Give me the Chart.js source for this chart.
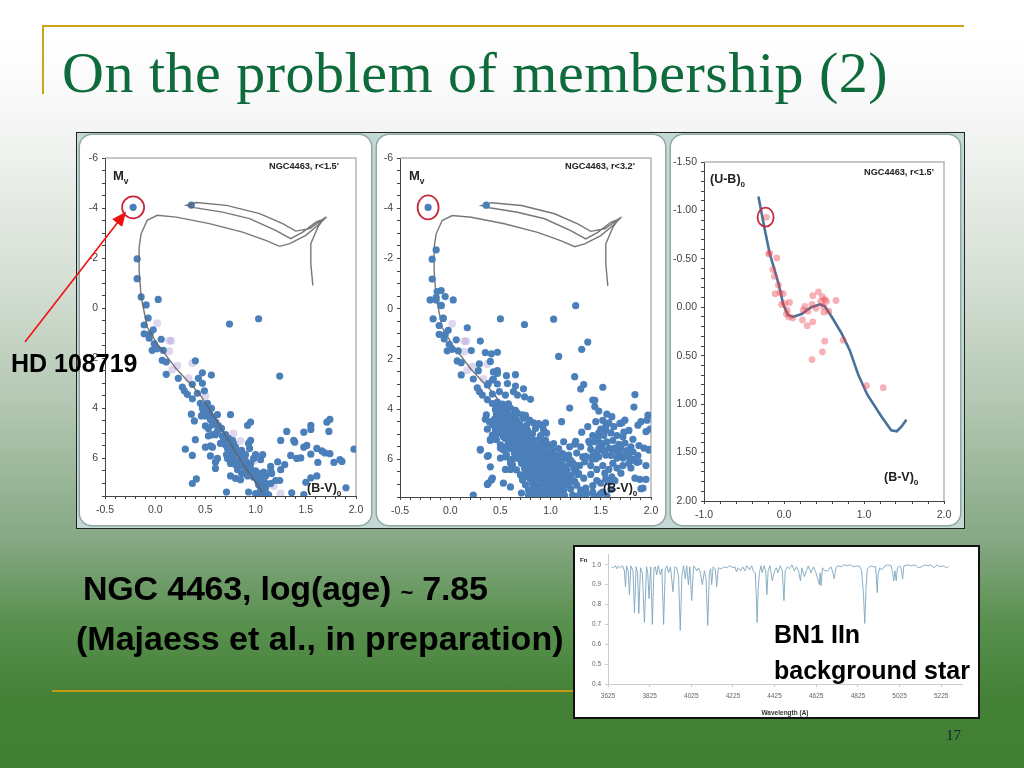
<!DOCTYPE html>
<html><head><meta charset="utf-8">
<script src="https://cdn.jsdelivr.net/npm/chart.js@4"></script>
<style>
html,body{margin:0;padding:0;width:1024px;height:768px;overflow:hidden}
#slide{position:relative;width:1024px;height:768px;background:linear-gradient(180deg,#fff 0,#fff 40px,#f5f6f5 120px,#d5dfd4 280px,#b4c8b3 400px,#86a884 540px,#5a9150 620px,#438136 700px,#417f33 768px);font-family:"Liberation Sans",Arial,sans-serif;color:#000}
.abs{position:absolute;white-space:nowrap}
.bar{position:absolute;background:#cda51c}
#frame{position:absolute;left:76px;top:132px;width:887px;height:395px;border:1.5px solid #222;background:#c4d8d4}
.card{position:absolute;top:135px;height:390px;background:#fff;border-radius:12px;box-shadow:0 0 0 1.5px #8fa8a6}
canvas{position:absolute;display:block}
#specbox{position:absolute;left:573px;top:545px;width:403px;height:170px;background:#fff;border:2px solid #111}
.lab{font-weight:bold;color:#222}
sub{font-size:65%;line-height:0}
</style></head><body>
<div id="slide">
<div class="bar" style="left:42px;top:25px;width:922px;height:2px"></div>
<div class="bar" style="left:42px;top:25px;width:2px;height:69px"></div>
<div class="bar" style="left:52px;top:690px;width:525px;height:2px;background:#c29a14"></div>
<div class="abs" style="left:62px;top:38px;font-family:'Liberation Serif',serif;font-size:58px;line-height:70px;color:#0e6b3c;letter-spacing:0.5px">On the problem of membership (2)</div>
<div id="frame"></div>
<div class="card" style="left:80px;width:291px"></div>
<div class="card" style="left:377px;width:288px"></div>
<div class="card" style="left:671px;width:289px"></div>
<canvas id="c1" width="291" height="390" style="left:80px;top:135px"></canvas>
<canvas id="c2" width="288" height="390" style="left:377px;top:135px"></canvas>
<canvas id="c3" width="289" height="390" style="left:671px;top:135px"></canvas>
<div class="abs lab" style="left:113px;top:168px;font-size:13px">M<sub>v</sub></div>
<div class="abs lab" style="left:269px;top:161px;font-size:9.2px">NGC4463, r&lt;1.5'</div>
<div class="abs lab" style="left:307px;top:481px;font-size:12.5px">(B-V)<sub>0</sub></div>
<div class="abs lab" style="left:409px;top:168px;font-size:13px">M<sub>v</sub></div>
<div class="abs lab" style="left:565px;top:161px;font-size:9.2px">NGC4463, r&lt;3.2'</div>
<div class="abs lab" style="left:603px;top:481px;font-size:12.5px">(B-V)<sub>0</sub></div>
<div class="abs lab" style="left:710px;top:172px;font-size:12.5px">(U-B)<sub>0</sub></div>
<div class="abs lab" style="left:864px;top:167px;font-size:9.2px">NGC4463, r&lt;1.5'</div>
<div class="abs lab" style="left:884px;top:470px;font-size:12.5px">(B-V)<sub>0</sub></div>
<svg class="abs" style="left:0;top:0" width="1024" height="768">
<defs><marker id="ah" markerWidth="9" markerHeight="8" refX="8" refY="4" orient="auto"><path d="M0,0 L9,4 L0,8 Z" fill="#ee1111"/></marker></defs>
<line x1="25" y1="342" x2="125" y2="213" stroke="#ee1111" stroke-width="1.6" marker-end="url(#ah)"/>
</svg>
<div class="abs" style="left:11px;top:349px;font-weight:bold;font-size:25px;line-height:29px">HD 108719</div>
<div id="specbox"></div>
<canvas id="c4" width="403" height="170" style="left:575px;top:547px"></canvas>
<div class="abs lab" style="left:580px;top:557px;font-size:6px">Fn</div>
<div class="abs" style="left:83px;top:570px;font-weight:bold;font-size:34px;line-height:36px;letter-spacing:-0.2px">NGC 4463, log(age) <span style="font-size:22px">~</span> 7.85</div>
<div class="abs" style="left:76px;top:620px;font-weight:bold;font-size:34px;line-height:36px">(Majaess et al., in preparation)</div>
<div class="abs" style="left:774px;top:620px;font-weight:bold;font-size:25px;line-height:28px">BN1 IIn</div>
<div class="abs" style="left:774px;top:656px;font-weight:bold;font-size:25px;line-height:28px">background star</div>
<div class="abs" style="left:946px;top:727px;font-family:'Liberation Serif',serif;font-size:15px;color:#123">17</div>
</div>
<script>
const cmdTicksX=[-0.5,0,0.5,1,1.5,2];
const cmdMvLabels=[-6,-4,-2,0,2,4,6];
const isochrone=[[1.07,7.34],[0.87,6.21],[0.61,4.48],[0.44,3.41],[0.21,2.42],[0.02,1.42],[-0.08,0.75],[-0.14,-0.45],[-0.16,-1.51],[-0.16,-2.44],[-0.14,-2.98],[-0.08,-3.51],[0.02,-3.71],[0.21,-3.64],[0.54,-3.38],[0.87,-3.04],[1.1,-2.71],[1.24,-2.47],[1.34,-2.58],[1.5,-2.91],[1.62,-3.31],[1.69,-3.58],[1.6,-3.44],[1.47,-3.04],[1.35,-2.78],[1.2,-3.11],[0.94,-3.58],[0.67,-3.84],[0.39,-4.02],[0.31,-4.11],[0.41,-4.22],[0.71,-4.11],[1.04,-3.78],[1.27,-3.38],[1.4,-3.08],[1.54,-3.18],[1.68,-3.58],[1.62,-3.24],[1.55,-2.58],[1.55,-1.78],[1.57,-0.91]];
const circledStar=[-0.22,-4.03];
const innerStars=[[-0.22,-4.03],[0.36,-4.12],[-0.18,-1.97],[-0.18,-1.18],[-0.14,-0.45],[-0.09,-0.13],[0.03,-0.35],[-0.07,0.39],[-0.11,0.67],[-0.02,0.86],[-0.11,1.02],[-0.05,1.02],[-0.06,1.2],[0.06,1.24],[-0.01,1.42],[-0.03,1.68],[0.02,1.62],[0.08,1.68],[0.07,2.08],[0.11,2.15],[0.4,2.1],[0.11,2.64],[0.23,2.8],[0.47,2.58],[0.56,2.67],[0.43,2.8],[0.37,3.04],[0.47,3.0],[0.49,3.3],[0.27,3.15],[0.29,3.3],[0.32,3.44],[0.37,3.62],[0.42,3.4],[0.52,3.8],[0.74,0.63],[1.03,0.42],[1.24,2.71],
[1.74,4.44],[1.71,4.55],[1.73,4.92],[1.55,4.68],[1.55,4.84],[1.48,4.95],[1.31,4.92],[1.25,5.28],[1.38,5.28],[1.39,5.35],[1.51,5.48],[1.48,5.55],[1.61,5.6],[1.55,5.83],[1.66,5.7],[1.69,5.78],[1.74,5.81],[1.98,5.63],[1.35,5.88],[1.41,6.0],[1.45,5.98],[1.29,6.25],[1.22,6.14],[1.62,6.16],[1.78,6.16],[1.84,6.05],[1.86,6.12],[1.25,6.45],[1.15,6.32],[1.15,6.5],[1.61,6.7],[1.55,6.78],[1.5,6.95],[1.9,7.17],[1.36,7.37],[1.48,7.44],[1.2,6.88],[1.24,6.88],
[0.3,5.63],[0.37,5.88],[0.4,5.25],[0.36,4.23],[0.39,4.5],[0.37,7.0],[0.41,6.82],[0.71,7.34],[0.93,7.34],
[0.45,3.8],[0.47,4.0],[0.5,3.95],[0.52,4.1],[0.48,4.15],[0.46,4.3],[0.5,4.3],[0.54,4.2],[0.56,4.0],[0.58,4.35],[0.62,4.25],[0.55,4.45],[0.6,4.55],[0.5,4.7],[0.53,4.8],[0.57,4.65],[0.63,4.7],[0.66,4.8],[0.62,4.9],[0.57,5.05],[0.53,5.1],[0.6,5.05],[0.67,5.1],[0.7,5.05],[0.73,5.2],[0.68,5.3],[0.65,5.4],[0.7,5.45],[0.73,5.5],[0.78,5.4],[0.75,4.25],[0.92,4.68],[0.95,4.55],[0.95,5.28],[0.93,5.4],[0.94,5.6],[0.86,5.68],[0.8,5.55],[0.77,5.28],[0.7,5.08],
[0.72,5.6],[0.76,5.7],[0.71,5.85],[0.75,5.9],[0.8,5.8],[0.85,5.85],[0.9,5.85],[0.72,6.0],[0.78,6.05],[0.82,6.1],[0.86,6.0],[0.9,6.1],[0.75,6.2],[0.8,6.25],[0.85,6.3],[0.9,6.3],[0.95,6.2],[0.98,6.0],[1.0,5.85],[1.07,5.85],[1.05,6.05],[0.95,6.4],[0.9,6.5],[0.86,6.6],[0.82,6.45],[0.75,6.7],[0.8,6.8],[0.85,6.85],[0.92,6.7],[0.97,6.55],[1.0,6.5],[1.03,6.6],[1.05,6.7],[1.08,6.55],[1.1,6.7],[0.98,6.75],[1.02,6.9],[1.06,6.85],[1.09,6.95],[1.03,7.05],[1.07,7.1],[1.1,7.15],[1.05,7.25],[1.1,7.35],[1.13,7.45],[1.0,7.4],[1.03,7.45],[1.07,7.45],[1.15,7.0],[1.16,6.6],[0.55,5.5],[0.5,5.55],[0.57,5.55],[0.55,5.9],[0.6,6.15],[0.6,6.4],[0.62,6.0]];
const outerStars=[[-0.14,-2.34],[-0.2,-0.35],[-0.14,-0.35],[-0.13,-0.68],[-0.09,-0.72],[-0.05,-0.48],[-0.09,-0.12],[-0.17,0.41],[-0.07,0.38],[0.17,0.76],[0.5,0.41],[1.25,-0.12],[1.31,1.62],[1.37,1.33],[1.08,1.9],[0.3,1.29],[0.21,1.67],[0.35,1.75],[0.41,1.8],[0.47,1.74],[0.29,2.2],[0.28,2.47],[0.43,2.52],[0.47,2.47],[0.65,2.63],[0.42,2.84],[0.38,2.98],[0.57,2.98],[0.65,3.08],[0.73,3.19],[0.63,3.3],[0.55,3.44],[0.67,3.44],[0.74,3.51],[0.8,3.61],[1.33,3.02],[1.3,3.2],[1.52,3.13],[1.84,3.42],[1.83,3.92],[1.42,3.64],[1.44,3.65],[1.19,3.96],[1.44,3.9],[1.48,4.08],[1.56,4.2],[1.61,4.3],[1.97,4.24],[1.96,4.44],[1.11,4.5],[1.9,4.5],[1.87,4.64],[1.69,4.57],[0.23,7.42],[0.3,5.6],[0.38,5.85],[0.4,6.3],[0.35,4.4],[0.37,4.8],[0.4,5.2],[0.38,6.95],[0.42,6.75],[0.53,6.95],[0.6,7.1],[0.55,6.4],[0.5,5.95],
[0.42,3.78],[0.47,3.72],[0.53,3.83],[0.58,3.79],[0.45,4.02],[0.5,3.98],[0.55,4.03],[0.6,3.96],[0.65,4.05],[0.46,4.18],[0.52,4.22],[0.57,4.17],[0.62,4.24],[0.67,4.16],[0.72,4.23],[0.44,4.41],[0.49,4.37],[0.54,4.44],[0.6,4.38],[0.66,4.42],[0.73,4.36],[0.79,4.44],[0.42,4.62],[0.47,4.58],[0.53,4.64],[0.58,4.57],[0.63,4.63],[0.69,4.59],[0.76,4.65],[0.83,4.55],[0.88,4.58],[0.45,4.83],[0.5,4.78],[0.56,4.84],[0.61,4.77],[0.67,4.83],[0.72,4.79],[0.77,4.85],[0.85,4.77],[0.93,4.84],[0.42,5.03],[0.48,4.97],[0.54,5.04],[0.6,4.98],[0.65,5.03],[0.7,4.97],[0.76,5.04],[0.82,4.98],[0.9,5.05],[0.96,4.96],[0.46,5.22],[0.55,5.17],[0.6,5.23],[0.66,5.18],[0.71,5.24],[0.77,5.17],[0.83,5.23],[0.89,5.18],[0.95,5.24],[0.5,5.42],[0.58,5.37],[0.63,5.43],[0.69,5.38],[0.74,5.44],[0.8,5.37],[0.86,5.43],[0.92,5.38],[0.99,5.43],[1.03,5.37],[0.53,5.62],[0.6,5.57],[0.66,5.63],[0.72,5.58],[0.77,5.64],[0.83,5.57],[0.89,5.63],[0.95,5.58],[1.02,5.63],[1.08,5.57],[0.56,5.82],[0.64,5.77],[0.7,5.83],[0.75,5.78],[0.81,5.84],[0.87,5.77],[0.93,5.83],[0.99,5.78],[1.05,5.84],[1.12,5.77],[1.18,5.83],[0.6,6.02],[0.68,5.97],[0.73,6.03],[0.79,5.98],[0.85,6.04],[0.91,5.97],[0.97,6.03],[1.03,5.98],[1.09,6.03],[1.15,5.97],[1.2,6.04],[0.62,6.22],[0.71,6.17],[0.77,6.23],[0.82,6.18],[0.88,6.24],[0.94,6.17],[1.0,6.23],[1.06,6.18],[1.12,6.23],[1.19,6.17],[1.25,6.24],[0.66,6.42],[0.74,6.37],[0.8,6.43],[0.86,6.38],[0.92,6.44],[0.98,6.37],[1.04,6.43],[1.1,6.38],[1.16,6.44],[1.23,6.37],[0.7,6.62],[0.76,6.57],[0.83,6.63],[0.89,6.58],[0.95,6.64],[1.01,6.57],[1.07,6.63],[1.13,6.58],[1.2,6.63],[1.28,6.57],[0.72,6.82],[0.8,6.77],[0.85,6.83],[0.91,6.78],[0.97,6.84],[1.03,6.77],[1.09,6.83],[1.15,6.78],[1.22,6.83],[0.75,7.02],[0.82,6.97],[0.87,7.03],[0.93,6.98],[0.99,7.04],[1.05,6.97],[1.11,7.03],[1.18,6.98],[1.26,7.03],[0.78,7.22],[0.83,7.17],[0.89,7.23],[0.95,7.18],[1.01,7.24],[1.07,7.17],[1.13,7.23],[1.2,7.18],[1.3,7.23],[0.78,7.43],[0.84,7.38],[0.9,7.44],[0.96,7.38],[1.02,7.44],[1.08,7.38],[1.14,7.44],[1.22,7.42],[1.34,7.38],[1.28,7.44],[1.42,7.3],
[1.37,4.7],[1.45,4.5],[1.52,4.45],[1.58,4.55],[1.63,4.7],[1.5,4.8],[1.42,5.05],[1.47,5.15],[1.53,5.05],[1.6,4.95],[1.66,5.05],[1.72,5.1],[1.78,4.85],[1.82,5.2],[1.88,5.45],[1.95,4.9],[1.99,4.8],[1.93,5.55],[1.98,5.6],[1.44,5.3],[1.5,5.35],[1.56,5.3],[1.62,5.25],[1.68,5.4],[1.74,5.35],[1.8,5.5],[1.4,5.6],[1.46,5.7],[1.52,5.65],[1.58,5.55],[1.64,5.55],[1.7,5.55],[1.76,5.65],[1.82,5.7],[1.87,5.85],[1.42,5.85],[1.48,5.9],[1.54,5.7],[1.6,5.85],[1.66,5.95],[1.72,5.95],[1.78,5.9],[1.83,6.0],[1.88,6.1],[1.32,5.9],[1.26,5.75],[1.19,5.5],[1.13,5.3],[1.24,5.4],[1.3,5.5],[1.34,6.1],[1.4,6.25],[1.46,6.4],[1.52,6.25],[1.58,6.4],[1.66,6.35],[1.72,6.25],[1.8,6.35],[1.95,6.25],[1.27,6.6],[1.33,6.75],[1.4,6.6],[1.46,6.85],[1.54,6.55],[1.58,6.9],[1.64,6.85],[1.7,6.55],[1.84,6.75],[1.89,6.8],[1.95,6.8],[1.35,7.15],[1.42,7.05],[1.52,7.3],[1.6,7.2],[1.43,7.45],[1.5,7.35],[1.56,7.45],[1.92,7.15]];
const smudgeStars=[[0.02,0.6],[0.14,1.3],[0.16,1.3],[0.14,1.72],[0.22,2.3],[0.17,2.45],[0.37,2.2],[0.33,2.8],[0.5,3.5],[0.85,5.3],[0.78,5.0],[1.15,7.0],[1.18,7.1],[1.25,7.4],[0.98,6.1],[0.62,4.6]];
const ubTicksX=[-1,0,1,2];
const ubTicksY=[-1.5,-1,-0.5,0,0.5,1,1.5,2];
const ubSequence=[[-0.32,-1.145],[-0.24,-0.8],[-0.18,-0.56],[-0.07,-0.25],[-0.01,-0.03],[0.05,0.08],[0.11,0.1],[0.22,0.07],[0.34,0],[0.45,-0.03],[0.51,-0.01],[0.59,0.09],[0.72,0.27],[0.82,0.44],[0.93,0.7],[1.04,0.9],[1.22,1.13],[1.34,1.27],[1.41,1.28],[1.47,1.23],[1.53,1.16]];
const ubStars=[[-0.22,-0.93],[-0.18,-0.56],[-0.19,-0.55],[-0.09,-0.51],[-0.14,-0.39],[-0.12,-0.32],[-0.07,-0.23],[-0.11,-0.14],[-0.05,-0.15],[-0.01,-0.14],[-0.03,-0.03],[0.01,-0.04],[0.07,-0.05],[0.04,0.03],[0.03,0.07],[0.06,0.1],[0.11,0.11],[0.23,0.13],[0.36,0.15],[0.29,0.19],[0.26,-0.01],[0.24,0.03],[0.3,0.04],[0.35,-0.03],[0.4,0.01],[0.36,-0.12],[0.43,-0.16],[0.48,-0.11],[0.51,-0.08],[0.46,-0.06],[0.53,-0.06],[0.65,-0.07],[0.49,-0.01],[0.5,0.05],[0.56,0.04],[0.51,0.35],[0.48,0.46],[0.35,0.54],[0.74,0.34],[1.03,0.81],[1.24,0.83]];
const ubCircled=[-0.23,-0.93];
const wavelengthTicks=[3625,3825,4025,4225,4425,4625,4825,5025,5225];
const fluxTicks=[0.4,0.5,0.6,0.7,0.8,0.9,1.0];
const wavelength=[3642,3650,3660,3668,3676,3685,3695,3704,3709,3714,3722,3728,3735,3745,3752,3760,3767,3773,3781,3790,3800,3810,3816,3822,3830,3838,3846,3852,3859,3866,3876,3884,3892,3900,3908,3916,3925,3937,3946,3955,3964,3972,3980,3988,3996,4003,4011,4018,4027,4036,4044,4051,4060,4069,4078,4088,4096,4104,4112,4118,4123,4130,4140,4147,4155,4170,4180,4195,4210,4225,4235,4242,4250,4262,4272,4282,4292,4305,4315,4322,4332,4337,4341,4346,4352,4360,4365,4375,4382,4388,4394,4403,4414,4425,4433,4441,4452,4462,4470,4476,4486,4497,4508,4520,4530,4540,4549,4556,4568,4578,4587,4600,4612,4622,4632,4640,4644,4648,4655,4665,4680,4695,4703,4711,4720,4727,4745,4760,4775,4790,4805,4820,4835,4843,4852,4858,4864,4870,4885,4900,4910,4914,4918,4922,4930,4940,4955,4970,4985,4992,4997,5003,5009,5015,5025,5033,5040,5046,5065,5080,5095,5105,5115,5130,5145,5160,5175,5190,5205,5220,5235,5250,5260];
const flux=[.99,.985,.995,.98,.995,.985,.995,.97,.89,.995,.97,.85,.995,.97,.76,.99,.96,.755,.985,.96,.71,.99,.96,.83,.99,.70,.985,.99,.95,.995,.95,.98,.70,.98,.995,.96,.99,.865,.99,.985,.94,.67,.95,.995,.93,.995,.9,.99,.82,.995,.985,.97,.985,.96,.9,.97,.93,.695,.96,.98,.9,.99,.98,.89,.985,.98,.99,.985,.995,.985,.99,.965,.985,.97,.99,.97,.995,.975,.995,.97,.96,.85,.71,.87,.96,.995,.96,.995,.97,.85,.97,.995,.92,.97,.985,.96,.995,.97,.82,.97,.99,.98,1.0,.97,.99,.97,.92,.985,.94,.97,.995,.96,.99,.965,.93,.9,.96,.895,.985,.97,.97,.99,.97,.93,.985,.995,.99,1.0,.995,1.0,.99,.995,.99,.97,.85,.705,.88,.98,.995,.99,.99,.93,.86,.95,.985,.975,.995,1.0,.995,.96,.92,.97,.92,.985,.995,.98,.93,.995,1.0,.995,1.0,.995,.985,.99,1.0,.995,1.0,.985,1.0,.99,.995,.985,.99];

const toXY=a=>a.map(([x,y])=>({x,y}));
const near=(v,list)=>list.some(t=>Math.abs(t-v)<1e-6);
const boxPlugin={id:'box',beforeDatasetsDraw(c){const a=c.chartArea,g=c.ctx;g.save();g.strokeStyle='#b5b5b5';g.lineWidth=1.5;g.beginPath();g.moveTo(a.left,a.top);g.lineTo(a.right,a.top);g.lineTo(a.right,a.bottom);g.stroke();g.restore();}};
const ring=(c,pt,rx,ry,col)=>{const g=c.ctx,X=c.scales.x.getPixelForValue(pt[0]),Y=c.scales.y.getPixelForValue(pt[1]);g.save();g.strokeStyle=col;g.lineWidth=1.8;g.beginPath();g.ellipse(X,Y,rx,ry,0,0,Math.PI*2);g.stroke();g.restore();};
function axes(xr,xstep,xl,xfmt,xh,yr,ystep,yl,yfmt,yw,rev,lc){
 return {
  x:{type:'linear',min:xr[0],max:xr[1],afterFit:s=>{s.height=xh},grid:{display:true,drawOnChartArea:false,drawTicks:true,tickLength:3,tickColor:'#444'},border:{color:'#444',width:1},
     ticks:{stepSize:xstep,autoSkip:false,maxRotation:0,color:lc,font:{family:'Liberation Sans',size:10.5},padding:5,callback:v=>near(v,xl)?xfmt(v):''}},
  y:{type:'linear',reverse:rev,min:yr[0],max:yr[1],afterFit:s=>{s.width=yw},grid:{display:true,drawOnChartArea:false,drawTicks:true,tickLength:3,tickColor:'#444'},border:{color:'#444',width:1},
     ticks:{stepSize:ystep,autoSkip:false,color:lc,font:{family:'Liberation Sans',size:10.5},padding:4,callback:v=>near(v,yl)?yfmt(v):''}}
 };
}
const baseOpts=(pad,scales)=>({responsive:false,animation:false,devicePixelRatio:1,layout:{padding:pad},plugins:{legend:{display:false},tooltip:{enabled:false}},scales});
const ptSet=(data,col,r)=>({type:'scatter',data:toXY(data),pointRadius:r,pointBackgroundColor:col,pointBorderWidth:0,showLine:false});
const lineSet=(data,col,w)=>({type:'scatter',data:toXY(data),showLine:true,pointRadius:0,borderColor:col,borderWidth:w,tension:0,fill:false});
const fx=v=>v.toFixed(1), fi=v=>String(v), f2=v=>v.toFixed(2);
const blue='#4b7fba';
new Chart(document.getElementById('c1'),{type:'scatter',data:{datasets:[lineSet(isochrone,'rgba(95,95,95,.85)',1.4),ptSet(innerStars,blue,3.6),ptSet(smudgeStars,'rgba(175,155,215,.4)',4)]},
 options:baseOpts({left:0,top:23,right:15,bottom:0},axes([-0.5,2],0.1,cmdTicksX,fx,29,[-6,7.5],0.5,cmdMvLabels,fi,25,true,'#444')),plugins:[boxPlugin,{id:'r1',afterDraw(c){ring(c,circledStar,11,11,'#c8283c')}}]});
new Chart(document.getElementById('c2'),{type:'scatter',data:{datasets:[ptSet(innerStars.concat(outerStars),blue,3.6),lineSet(isochrone,'rgba(95,95,95,.85)',1.4),ptSet(smudgeStars.slice(0,8),'rgba(175,155,215,.4)',4)]},
 options:baseOpts({left:0,top:23,right:14,bottom:0},axes([-0.5,2],0.1,cmdTicksX,fx,28,[-6,7.5],0.5,cmdMvLabels,fi,23,true,'#444')),plugins:[boxPlugin,{id:'r2',afterDraw(c){ring(c,circledStar,10.5,12,'#c8283c')}}]});
new Chart(document.getElementById('c3'),{type:'scatter',data:{datasets:[ptSet(ubStars,'rgba(235,70,80,.42)',3.4),lineSet(ubSequence,'#46729b',2.6)]},
 options:baseOpts({left:0,top:27,right:16,bottom:0},axes([-1,2],0.2,ubTicksX,fx,24,[-1.5,2],0.1,ubTicksY,f2,33,true,'#444')),plugins:[boxPlugin,{id:'r3',afterDraw(c){ring(c,ubCircled,8,9.5,'#c8283c')}}]});
const specAxes=axes([3625,5325],200,wavelengthTicks,fi,33,[0.4,1.05],0.1,fluxTicks,fx,33,false,'#666');
specAxes.x.afterBuildTicks=s=>{s.ticks=wavelengthTicks.map(v=>({value:v}))};
specAxes.y.afterBuildTicks=s=>{s.ticks=fluxTicks.map(v=>({value:v}))};
specAxes.x.ticks.font={family:'Liberation Sans',size:6.5};
specAxes.y.ticks.font={family:'Liberation Sans',size:6.5};
specAxes.x.grid.tickColor='#ccc';specAxes.y.grid.tickColor='#ccc';
specAxes.x.border.color='#ccc';specAxes.y.border.color='#ccc';
specAxes.x.title={display:true,text:'Wavelength (A)',color:'#333',font:{family:'Liberation Sans',size:6.5,weight:'bold'},padding:{top:5,bottom:0}};
new Chart(document.getElementById('c4'),{type:'scatter',data:{datasets:[lineSet(wavelength.map((w,i)=>[w,flux[i]]),'#7ea6bd',0.9)]},
 options:baseOpts({left:0,top:4,right:16,bottom:0},specAxes)});
</script>
</body></html>
